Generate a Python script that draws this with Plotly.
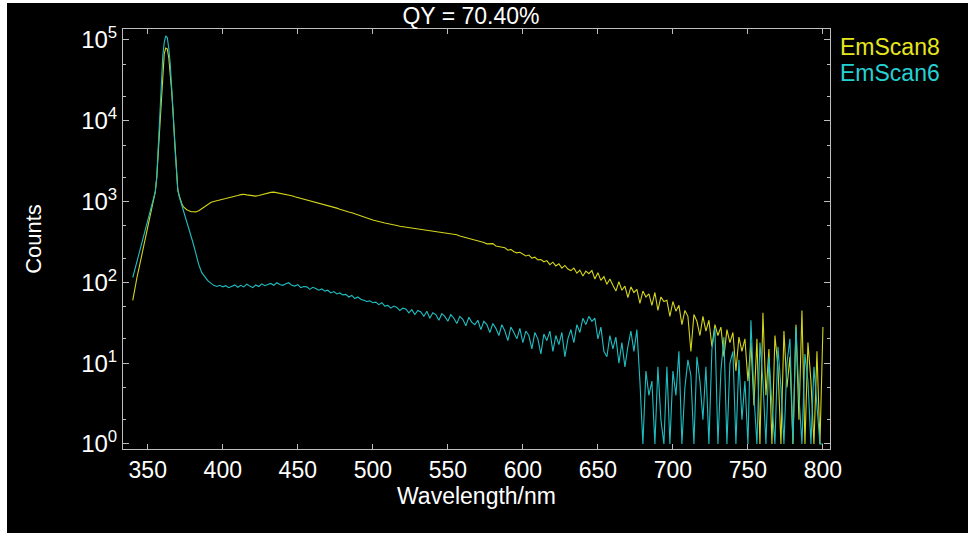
import plotly.graph_objects as go

# ---------------- data ----------------
series_names = ["EmScan8", "EmScan6"]
title_text = "QY = 70.40%"

# wavelength grid: 1 nm around the excitation peak, 2 nm afterwards
wl_fine = list(range(340, 380))
wl_coarse = list(range(380, 801, 2))
wavelength = wl_fine + wl_coarse

emscan8_fine = [60, 79, 100, 120, 145, 178, 219, 269, 331, 407,
                501, 617, 759, 912, 1096, 1318, 1995, 3981, 10000, 22387,
                44668, 67608, 79433, 77625, 60256, 39811, 22387, 11220, 5012, 2239,
                1413, 1175, 1000, 912, 851, 813, 794, 776, 759, 750]
emscan8_coarse = [750, 745, 770, 820, 880, 930, 975, 1000, 1030, 1040,
                  1070, 1090, 1120, 1140, 1170, 1190, 1220, 1230, 1210, 1200,
                  1185, 1170, 1190, 1220, 1250, 1290, 1300, 1310, 1290, 1280,
                  1255, 1230, 1210, 1180, 1150, 1125, 1100, 1075, 1050, 1020,
                  1000, 975, 955, 930, 915, 890, 875, 850, 830, 805,
                  790, 765, 745, 728, 705, 690, 668, 650, 628, 610,
                  592, 580, 562, 555, 542, 535, 522, 512, 505, 496,
                  490, 482, 476, 470, 466, 456, 452, 446, 440, 434,
                  430, 426, 420, 418, 408, 402, 398, 390, 388, 376,
                  368, 362, 350, 345, 338, 325, 322, 312, 300, 298,
                  302, 282, 278, 270, 268, 250, 256, 240, 232, 236,
                  222, 212, 218, 200, 205, 190, 192, 180, 186, 166,
                  178, 160, 170, 150, 162, 146, 140, 150, 130, 142,
                  120, 138, 128, 140, 110, 132, 106, 118, 95, 110,
                  92, 78, 102, 80, 90, 65, 88, 75, 82, 55,
                  78, 66, 72, 52, 75, 45, 66, 58, 60, 38,
                  58, 44, 52, 30, 45, 38, 14, 40, 33, 22,
                  38, 25, 34, 16, 30, 22, 28, 12, 26, 18,
                  24, 8, 21, 14, 20, 6, 18, 3, 20, 1,
                  42, 4, 15, 1, 22, 9, 1, 25, 5, 12,
                  1, 30, 2, 45, 1, 18, 6, 1, 14, 1,
                  28]

emscan6_fine = [115, 135, 158, 186, 219, 257, 302, 355, 417, 490,
                575, 676, 794, 933, 1096, 1318, 1995, 5012, 14125, 33884,
                63096, 93325, 112202, 107152, 79433, 50119, 26303, 12023, 5012, 2239,
                1380, 1148, 1000, 871, 759, 661, 575, 501, 427, 372]
emscan6_coarse = [316, 230, 166, 132, 116, 105, 98, 92, 89, 92,
                  88, 91, 86, 90, 93, 87, 92, 88, 95, 90,
                  86, 93, 89, 96, 91, 94, 97, 92, 99, 94,
                  92, 96, 99, 92, 90, 94, 86, 89, 88, 82,
                  87, 84, 80, 83, 78, 80, 74, 77, 72, 74,
                  70, 71, 66, 69, 63, 66, 62, 60, 58, 59,
                  56, 57, 53, 56, 51, 52, 48, 51, 49, 45,
                  48, 47, 42, 46, 40, 45, 43, 38, 44, 36,
                  42, 40, 34, 41, 38, 33, 40, 36, 31, 38,
                  35, 29, 37, 32, 30, 34, 26, 33, 30, 24,
                  31, 27, 22, 30, 25, 19, 28, 24, 20, 27,
                  18, 25, 22, 15, 24, 20, 13, 23, 19, 25,
                  14, 22, 17, 24, 12, 20, 26, 18, 30, 24,
                  36, 30, 38, 33, 36, 20, 28, 14, 12, 22,
                  15, 21, 10, 18, 9, 16, 25, 14, 26, 6,
                  1, 8, 4, 6, 1, 9, 2, 1, 9, 1,
                  8, 4, 14, 1, 5, 11, 7, 1, 12, 6,
                  2, 9, 1, 15, 27, 1, 8, 21, 1, 10,
                  14, 1, 11, 2, 6, 1, 34, 4, 1, 18,
                  6, 1, 12, 3, 1, 16, 5, 1, 10, 20,
                  1, 28, 4, 1, 13, 6, 1, 9, 3, 1,
                  1]

emscan8 = emscan8_fine + emscan8_coarse
emscan6 = emscan6_fine + emscan6_coarse
assert len(emscan8) == len(wavelength) == len(emscan6)

x_ticks = [350, 400, 450, 500, 550, 600, 650, 700, 750, 800]
y_ticks = [1, 10, 100, 1000, 10000, 100000]
y_ticktext = ["10<sup>0</sup>", "10<sup>1</sup>", "10<sup>2</sup>",
              "10<sup>3</sup>", "10<sup>4</sup>", "10<sup>5</sup>"]

# ---------------- styling ----------------
line_colors = ["#D4D41C", "#20BEC2"]
text_colors = ["#E6E61E", "#26D0D2"]
FONT = "Liberation Sans, Arial, sans-serif"
W, H = 968, 533
L, R, T, B = 123, 830, 29, 449
axcol = "#BDBDBD"

fig = go.Figure()
for name, ys, c in zip(series_names, [emscan8, emscan6], line_colors):
    fig.add_trace(go.Scatter(x=wavelength, y=ys, mode="lines", name=name,
                             line=dict(color=c, width=1.1), showlegend=False))

fig.update_layout(
    width=W, height=H,
    margin=dict(l=L, r=W - R, t=T, b=H - B, pad=0),
    paper_bgcolor="black", plot_bgcolor="black",
    font=dict(family=FONT, color="white", size=23),
    title=dict(text=title_text, x=(L + R) / 2 / W, xanchor="center",
               y=1 - 16 / H, yanchor="middle", xref="paper",
               font=dict(size=23, color="white")),
)

fig.update_xaxes(range=[333.5, 804.7], tickvals=x_ticks, ticks="inside", ticklen=5,
                 tickcolor=axcol, showline=True, linecolor=axcol, linewidth=1,
                 mirror="allticks", showgrid=False, zeroline=False,
                 tickfont=dict(size=23, color="white"),
                 title=dict(text="Wavelength/nm", font=dict(size=23, color="white"), standoff=2))
fig.update_yaxes(type="log", range=[-0.062, 5.136], tickvals=y_ticks, ticktext=y_ticktext,
                 ticks="inside", ticklen=6, tickcolor=axcol, showline=True, linecolor=axcol,
                 linewidth=1, mirror="allticks", showgrid=False, zeroline=False,
                 tickfont=dict(size=24, color="white"),
                 minor=dict(ticks="inside", ticklen=3, tickcolor=axcol, showgrid=False),
                 title=dict(text="Counts", font=dict(size=22, color="white"), standoff=33))

# legend as coloured text
for i, (name, c) in enumerate(zip(series_names, text_colors)):
    fig.add_annotation(text=name, xref="paper", yref="paper",
                       x=(838 - L) / (R - L), y=(B - (47 + 26 * i)) / (B - T),
                       xanchor="left", yanchor="middle", showarrow=False,
                       font=dict(size=23, color=c, family=FONT))

# white frame strips of the original screenshot
fig.add_shape(type="rect", xref="paper", yref="paper", x0=-0.3, x1=(7 - L) / (R - L),
              y0=-0.5, y1=1.5, fillcolor="white", line_width=0, layer="below")
fig.add_shape(type="rect", xref="paper", yref="paper", x0=-0.3, x1=1.5,
              y0=(B - 3) / (B - T), y1=1.5, fillcolor="white", line_width=0, layer="below")

fig.write_html("out.html")
